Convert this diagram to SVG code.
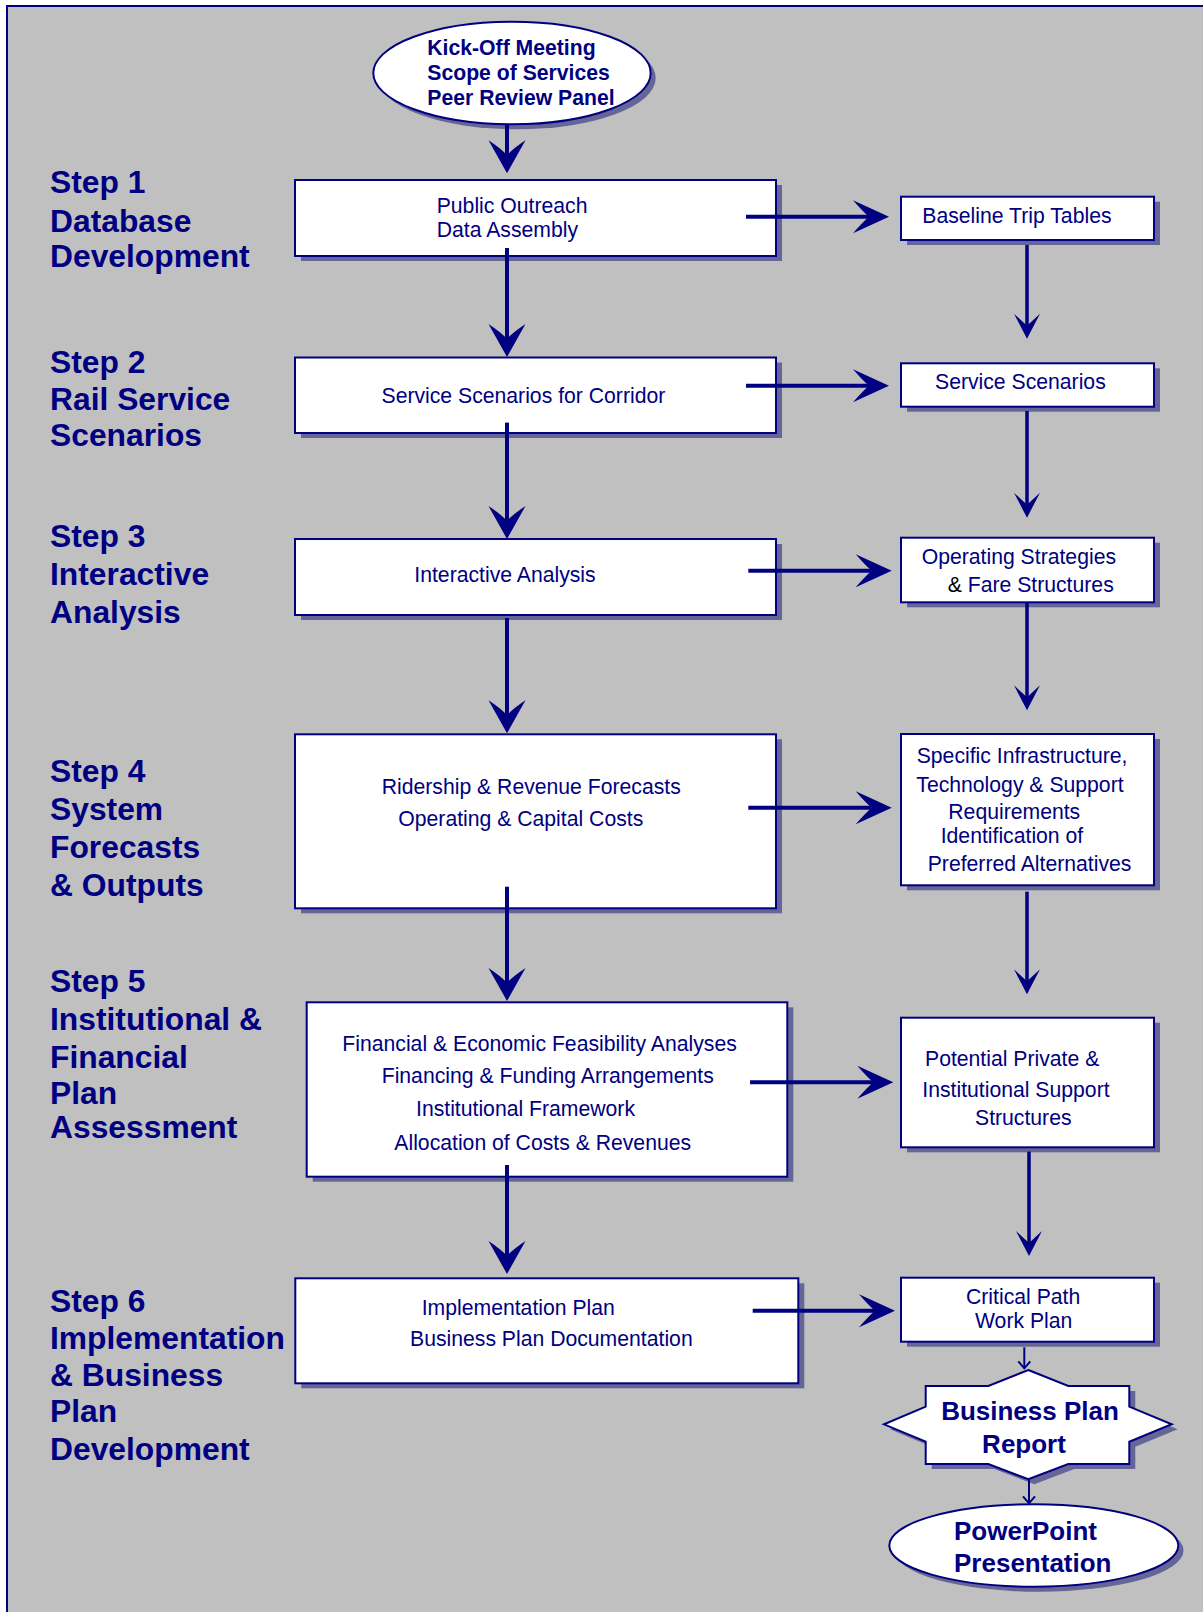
<svg xmlns="http://www.w3.org/2000/svg" width="1203" height="1612" viewBox="0 0 1203 1612">
  <defs>
    <style>
      .box { fill: #ffffff; stroke: #000080; stroke-width: 2; }
      .shadow { fill: #656596; stroke: none; }
      .t { font-family: "Liberation Sans", Arial, sans-serif; font-size: 21.2px; fill: #000080; }
      .tb { font-family: "Liberation Sans", Arial, sans-serif; font-size: 21.2px; font-weight: bold; fill: #000080; }
      .big { font-family: "Liberation Sans", Arial, sans-serif; font-size: 26px; font-weight: bold; fill: #000080; }
      .step { font-family: "Liberation Sans", Arial, sans-serif; font-size: 31.8px; font-weight: bold; fill: #000080; }
      .main { fill: none; stroke: #000080; stroke-width: 4; }
      .side { fill: none; stroke: #000080; stroke-width: 3.5; }
      .thin { fill: none; stroke: #000080; stroke-width: 2; }
    </style>
    <marker id="headV" markerUnits="userSpaceOnUse" orient="auto" refX="15" refY="0" markerWidth="40" markerHeight="40" viewBox="0 -20 40 40" overflow="visible">
      <path d="M0,-18.5 L33,0 L0,18.5 Q9,5 15,0 Q9,-5 0,-18.5 Z" fill="#000080"/>
    </marker>
    <marker id="headH" markerUnits="userSpaceOnUse" orient="auto" refX="16" refY="0" markerWidth="40" markerHeight="40" viewBox="0 -20 40 40" overflow="visible">
      <path d="M0,-16.5 L36,0 L0,16.5 Q10,5 16,0 Q10,-5 0,-16.5 Z" fill="#000080"/>
    </marker>
    <marker id="headS" markerUnits="userSpaceOnUse" orient="auto" refX="12" refY="0" markerWidth="30" markerHeight="30" viewBox="0 -15 30 30" overflow="visible">
      <path d="M0,-13 L25,0 L0,13 L12,0 Z" fill="#000080"/>
    </marker>
    <marker id="headT" markerUnits="userSpaceOnUse" orient="auto" refX="0" refY="0" markerWidth="20" markerHeight="20" viewBox="-10 -10 20 20" overflow="visible">
      <path d="M-7,-6 L0,0 L-7,6" fill="none" stroke="#000080" stroke-width="2"/>
    </marker>
  </defs>

  <!-- sheet background with frame -->
  <rect x="7" y="6" width="1230" height="1640" fill="#c0c0c0" stroke="#000080" stroke-width="2"/>

  <!-- step labels -->
  <g id="step1-label">
    <text class="step" x="50" y="193.3">Step 1</text>
    <text class="step" x="50" y="231.7">Database</text>
    <text class="step" x="50" y="266.7">Development</text>
  </g>
  <g id="step2-label">
    <text class="step" x="50" y="373.3">Step 2</text>
    <text class="step" x="50" y="410">Rail Service</text>
    <text class="step" x="50" y="446">Scenarios</text>
  </g>
  <g id="step3-label">
    <text class="step" x="50" y="547.3">Step 3</text>
    <text class="step" x="50" y="585">Interactive</text>
    <text class="step" x="50" y="622.7">Analysis</text>
  </g>
  <g id="step4-label">
    <text class="step" x="50" y="781.7">Step 4</text>
    <text class="step" x="50" y="820">System</text>
    <text class="step" x="50" y="858.3">Forecasts</text>
    <text class="step" x="50" y="896">&amp; Outputs</text>
  </g>
  <g id="step5-label">
    <text class="step" x="50" y="991.7">Step 5</text>
    <text class="step" x="50" y="1030">Institutional &amp;</text>
    <text class="step" x="50" y="1067.7">Financial</text>
    <text class="step" x="50" y="1104.3">Plan</text>
    <text class="step" x="50" y="1138.3">Assessment</text>
  </g>
  <g id="step6-label">
    <text class="step" x="50" y="1311.7">Step 6</text>
    <text class="step" x="50" y="1349.3">Implementation</text>
    <text class="step" x="50" y="1385.7">&amp; Business</text>
    <text class="step" x="50" y="1422.3">Plan</text>
    <text class="step" x="50" y="1460">Development</text>
  </g>

  <!-- start ellipse -->
  <g id="kickoff">
    <ellipse class="shadow" cx="517" cy="78" rx="138.7" ry="51.3"/>
    <ellipse class="box" cx="512" cy="73" rx="138.7" ry="51.3"/>
    <text class="tb" x="427.3" y="55">Kick-Off Meeting</text>
    <text class="tb" x="427.3" y="79.5">Scope of Services</text>
    <text class="tb" x="427.3" y="104.5">Peer Review Panel</text>
  </g>

  <!-- main column -->
  <g id="outreach">
    <rect class="shadow" x="301" y="185" width="481" height="76"/>
    <rect class="box" x="295" y="180" width="481" height="76"/>
    <text class="t" x="436.7" y="212.7">Public Outreach</text>
    <text class="t" x="436.7" y="236.7">Data Assembly</text>
  </g>
  <g id="corridor-scenarios">
    <rect class="shadow" x="301" y="362.5" width="481" height="75.5"/>
    <rect class="box" x="295" y="357.5" width="481" height="75.5"/>
    <text class="t" x="381.5" y="402.5">Service Scenarios for Corridor</text>
  </g>
  <g id="interactive-analysis">
    <rect class="shadow" x="301" y="544" width="481" height="76"/>
    <rect class="box" x="295" y="539" width="481" height="76"/>
    <text class="t" x="414.3" y="581.7">Interactive Analysis</text>
  </g>
  <g id="forecasts">
    <rect class="shadow" x="301" y="739.3" width="481" height="174"/>
    <rect class="box" x="295" y="734.3" width="481" height="174"/>
    <text class="t" x="381.7" y="794">Ridership &amp; Revenue Forecasts</text>
    <text class="t" x="398.3" y="825.7">Operating &amp; Capital Costs</text>
  </g>
  <g id="financial">
    <rect class="shadow" x="312.7" y="1007.3" width="480.6" height="174.4"/>
    <rect class="box" x="306.7" y="1002.3" width="480.6" height="174.4"/>
    <text class="t" x="342.3" y="1051">Financial &amp; Economic Feasibility Analyses</text>
    <text class="t" x="381.7" y="1083.3">Financing &amp; Funding Arrangements</text>
    <text class="t" x="416" y="1116">Institutional Framework</text>
    <text class="t" x="394.3" y="1150">Allocation of Costs &amp; Revenues</text>
  </g>
  <g id="implementation">
    <rect class="shadow" x="301.3" y="1283.3" width="503" height="105"/>
    <rect class="box" x="295.3" y="1278.3" width="503" height="105"/>
    <text class="t" x="421.7" y="1315">Implementation Plan</text>
    <text class="t" x="410" y="1346">Business Plan Documentation</text>
  </g>

  <!-- output column -->
  <g id="trip-tables">
    <rect class="shadow" x="907" y="201.7" width="253" height="43.3"/>
    <rect class="box" x="901" y="196.7" width="253" height="43.3"/>
    <text class="t" x="922.3" y="223.3">Baseline Trip Tables</text>
  </g>
  <g id="service-scenarios">
    <rect class="shadow" x="907" y="368.3" width="253" height="43.4"/>
    <rect class="box" x="901" y="363.3" width="253" height="43.4"/>
    <text class="t" x="935" y="389.3">Service Scenarios</text>
  </g>
  <g id="operating-strategies">
    <rect class="shadow" x="907" y="542.7" width="253" height="64.6"/>
    <rect class="box" x="901" y="537.7" width="253" height="64.6"/>
    <text class="t" x="921.7" y="564.3">Operating Strategies</text>
    <text class="t" x="947.7" y="591.7"><tspan fill="#000000">&amp;</tspan> Fare Structures</text>
  </g>
  <g id="infrastructure">
    <rect class="shadow" x="907" y="739" width="253" height="151.3"/>
    <rect class="box" x="901" y="734" width="253" height="151.3"/>
    <text class="t" x="916.7" y="762.7">Specific Infrastructure,</text>
    <text class="t" x="916.3" y="791.7">Technology &amp; Support</text>
    <text class="t" x="948.3" y="819.3">Requirements</text>
    <text class="t" x="940.7" y="842.7">Identification of</text>
    <text class="t" x="927.7" y="870.7">Preferred Alternatives</text>
  </g>
  <g id="support-structures">
    <rect class="shadow" x="907" y="1022.7" width="253" height="129.6"/>
    <rect class="box" x="901" y="1017.7" width="253" height="129.6"/>
    <text class="t" x="925" y="1065.7">Potential Private &amp;</text>
    <text class="t" x="922.3" y="1096.7">Institutional Support</text>
    <text class="t" x="975" y="1125">Structures</text>
  </g>
  <g id="critical-path">
    <rect class="shadow" x="907" y="1282.7" width="253" height="64"/>
    <rect class="box" x="901" y="1277.7" width="253" height="64"/>
    <text class="t" x="966" y="1304.3">Critical Path</text>
    <text class="t" x="975" y="1328.3">Work Plan</text>
  </g>
  <g id="business-plan-report">
    <polygon class="shadow" transform="translate(6,5)" points="1028.3,1370 1068.3,1386 1129.3,1386 1129.3,1406.7 1171.7,1424.3 1129.3,1441.7 1129.3,1464 1068.3,1464 1028.3,1479.3 988.3,1464 925.7,1464 925.7,1441.7 884,1424.3 925.7,1406.7 925.7,1386 988.3,1386"/>
    <polygon class="box" points="1028.3,1370 1068.3,1386 1129.3,1386 1129.3,1406.7 1171.7,1424.3 1129.3,1441.7 1129.3,1464 1068.3,1464 1028.3,1479.3 988.3,1464 925.7,1464 925.7,1441.7 884,1424.3 925.7,1406.7 925.7,1386 988.3,1386"/>
    <text class="big" x="1030" y="1420" text-anchor="middle">Business Plan</text>
    <text class="big" x="1024" y="1452.7" text-anchor="middle">Report</text>
  </g>
  <g id="powerpoint">
    <ellipse class="shadow" cx="1039" cy="1550.5" rx="144.5" ry="41.2"/>
    <ellipse class="box" cx="1033.8" cy="1545.5" rx="144.5" ry="41.2"/>
    <text class="big" x="954" y="1540">PowerPoint</text>
    <text class="big" x="954" y="1571.7">Presentation</text>
  </g>

  <!-- connectors -->
  <g id="connectors">
    <!-- main column, downward -->
    <path class="main" d="M507,124 V155.3" marker-end="url(#headV)"/>
    <path class="main" d="M507,248 V339" marker-end="url(#headV)"/>
    <path class="main" d="M507,422.6 V521" marker-end="url(#headV)"/>
    <path class="main" d="M507,618 V715.3" marker-end="url(#headV)"/>
    <path class="main" d="M507,886.7 V983" marker-end="url(#headV)"/>
    <path class="main" d="M507,1165 V1256" marker-end="url(#headV)"/>
    <!-- steps to outputs -->
    <path class="main" d="M746,216.7 H869" marker-end="url(#headH)"/>
    <path class="main" d="M746,385.7 H869" marker-end="url(#headH)"/>
    <path class="main" d="M748.3,570.7 H871.7" marker-end="url(#headH)"/>
    <path class="main" d="M748.3,807.7 H871.7" marker-end="url(#headH)"/>
    <path class="main" d="M750,1082.3 H873.3" marker-end="url(#headH)"/>
    <path class="main" d="M752.7,1310.7 H875" marker-end="url(#headH)"/>
    <!-- output column, downward -->
    <path class="side" d="M1027,245 V325.7" marker-end="url(#headS)"/>
    <path class="side" d="M1027,411 V504.7" marker-end="url(#headS)"/>
    <path class="side" d="M1027,602 V697.3" marker-end="url(#headS)"/>
    <path class="side" d="M1027,891.7 V981.3" marker-end="url(#headS)"/>
    <path class="side" d="M1029,1151.6 V1243" marker-end="url(#headS)"/>
    <path class="thin" d="M1024.3,1347.3 V1368.3" marker-end="url(#headT)"/>
    <path class="thin" d="M1029,1479.5 V1503.3" marker-end="url(#headT)"/>
  </g>
</svg>
